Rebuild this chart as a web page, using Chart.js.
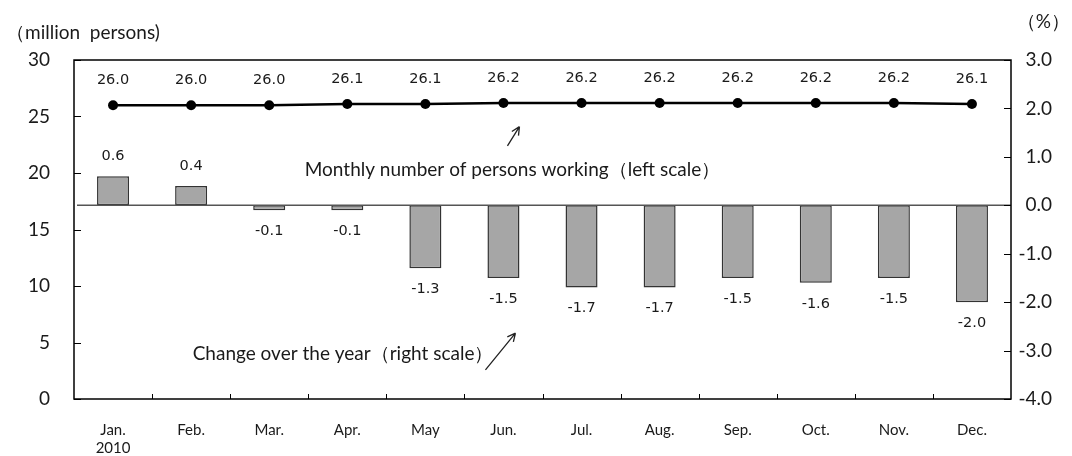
<!DOCTYPE html>
<html>
<head>
<meta charset="utf-8">
<script src="https://cdn.jsdelivr.net/npm/chart.js@4/dist/chart.umd.min.js"></script>
<style>
  html, body { margin: 0; padding: 0; background: #fff; }
  #wrap { width: 1072px; height: 456px; position: relative; }
</style>
</head>
<body>
<div id="wrap"><canvas id="chart"></canvas></div>
<script>
const months = [['Jan.', '2010'], 'Feb.', 'Mar.', 'Apr.', 'May', 'Jun.', 'Jul.', 'Aug.', 'Sep.', 'Oct.', 'Nov.', 'Dec.'];
const workers = [26.0, 26.0, 26.0, 26.1, 26.1, 26.2, 26.2, 26.2, 26.2, 26.2, 26.2, 26.1];
const changePct = [0.6, 0.4, -0.1, -0.1, -1.3, -1.5, -1.7, -1.7, -1.5, -1.6, -1.5, -2.0];
const leftTicks = [0, 5, 10, 15, 20, 25, 30];
const rightTicks = [-4, -3, -2, -1, 0, 1, 2, 3];

const ink = '#1a1a1a';
const labelFont = '14.5px "DejaVu Sans"';

// frame, inner ticks, zero line, value labels, notes
const decor = {
  id: 'decor',
  afterDatasetsDraw(chart) {
    const { ctx, chartArea: a, scales } = chart;
    const x = scales.x, yl = scales.y, yr = scales.y1;
    ctx.save();

    // zero line of the right scale
    const y0 = yr.getPixelForValue(0);
    ctx.strokeStyle = '#555';
    ctx.lineWidth = 1.5;
    ctx.beginPath();
    ctx.moveTo(a.left + 3, y0);
    ctx.lineTo(a.right, y0);
    ctx.stroke();

    // frame
    ctx.strokeStyle = '#000';
    ctx.lineWidth = 1.5;
    ctx.strokeRect(a.left, a.top, a.right - a.left, a.bottom - a.top);

    // inner ticks
    ctx.lineWidth = 1;
    ctx.beginPath();
    leftTicks.forEach(v => {
      const py = Math.round(yl.getPixelForValue(v)) + 0.5;
      ctx.moveTo(a.left, py); ctx.lineTo(a.left + 7, py);
    });
    rightTicks.forEach(v => {
      const py = Math.round(yr.getPixelForValue(v)) + 0.5;
      ctx.moveTo(a.right, py); ctx.lineTo(a.right - 7, py);
    });
    for (let i = 1; i < months.length; i++) {
      const px = Math.round((x.getPixelForValue(i - 1) + x.getPixelForValue(i)) / 2) + 0.5;
      ctx.moveTo(px, a.bottom); ctx.lineTo(px, a.bottom - 5);
    }
    ctx.stroke();

    // value labels
    ctx.fillStyle = ink;
    ctx.font = labelFont;
    ctx.textAlign = 'center';
    ctx.textBaseline = 'middle';
    chart.getDatasetMeta(1).data.forEach((el, i) => {
      const v = changePct[i];
      ctx.fillText(v.toFixed(1), el.x, v >= 0 ? el.y - 20 : el.y + 21);
    });
    chart.getDatasetMeta(0).data.forEach((el, i) => {
      ctx.fillText(workers[i].toFixed(1), el.x, el.y - 25);
    });

    // axis titles
    ctx.font = '19px Lato';
    ctx.fillStyle = ink;
    ctx.textAlign = 'left';
    ctx.fillText('（million  persons)', 6, 33);
    ctx.textAlign = 'right';
    ctx.fillText('（%）', 1070, 22);

    // notes with arrows
    const jun = x.getPixelForValue(5);
    ctx.font = '19px Lato';
    ctx.textAlign = 'center';
    ctx.fillText('Monthly number of persons working（left scale）', jun + 9, yl.getPixelForValue(20.3));
    ctx.textAlign = 'right';
    ctx.fillText('Change over the year（right scale）', jun - 10, yr.getPixelForValue(-3.06));

    const arrow = (x1, y1, x2, y2) => {
      const ang = Math.atan2(y2 - y1, x2 - x1);
      ctx.beginPath();
      ctx.moveTo(x1, y1); ctx.lineTo(x2, y2);
      ctx.moveTo(x2, y2); ctx.lineTo(x2 - 9 * Math.cos(ang - 0.45), y2 - 9 * Math.sin(ang - 0.45));
      ctx.moveTo(x2, y2); ctx.lineTo(x2 - 9 * Math.cos(ang + 0.45), y2 - 9 * Math.sin(ang + 0.45));
      ctx.stroke();
    };
    ctx.strokeStyle = '#222';
    ctx.lineWidth = 1.3;
    arrow(jun + 4, yl.getPixelForValue(22.4), jun + 16, yl.getPixelForValue(24.1));
    arrow(jun - 18, yr.getPixelForValue(-3.4), jun + 12, yr.getPixelForValue(-2.64));

    ctx.restore();
  }
};

new Chart(document.getElementById('chart'), {
  data: {
    labels: months,
    datasets: [
      {
        type: 'line',
        label: 'Monthly number of persons working',
        data: workers,
        yAxisID: 'y',
        borderColor: '#000',
        backgroundColor: '#000',
        borderWidth: 2.5,
        pointRadius: 5,
        pointBackgroundColor: '#000',
        pointBorderWidth: 0,
        tension: 0,
        order: 1
      },
      {
        type: 'bar',
        label: 'Change over the year',
        data: changePct,
        yAxisID: 'y1',
        backgroundColor: '#a6a6a6',
        borderColor: '#333',
        borderWidth: 1.5,
        borderSkipped: false,
        categoryPercentage: 1,
        barPercentage: 0.41,
        order: 2
      }
    ]
  },
  options: {
    responsive: true,
    maintainAspectRatio: false,
    animation: false,
    devicePixelRatio: 1,
    layout: { padding: { left: 0, right: 20, top: 60, bottom: 0 } },
    plugins: { legend: { display: false }, tooltip: { enabled: false } },
    scales: {
      x: {
        grid: { display: false, drawTicks: false },
        border: { display: false },
        ticks: { color: ink, font: { family: 'Lato', size: 15 }, padding: 22, maxRotation: 0, autoSkip: false },
        afterFit(s) { s.height = 57; }
      },
      y: {
        position: 'left',
        min: 0, max: 30,
        grid: { display: false, drawTicks: false },
        border: { display: false },
        ticks: { stepSize: 5, color: ink, font: { family: 'Lato', size: 19 }, padding: 24 },
        afterFit(s) { s.width = 74; }
      },
      y1: {
        position: 'right',
        min: -4, max: 3,
        grid: { display: false, drawTicks: false },
        border: { display: false },
        ticks: {
          stepSize: 1, color: ink, font: { family: 'Lato', size: 19 }, padding: 9, crossAlign: 'far',
          callback: v => Number(v).toFixed(1)
        },
        afterFit(s) { s.width = 41; }
      }
    }
  },
  plugins: [decor]
});
</script>
</body>
</html>
